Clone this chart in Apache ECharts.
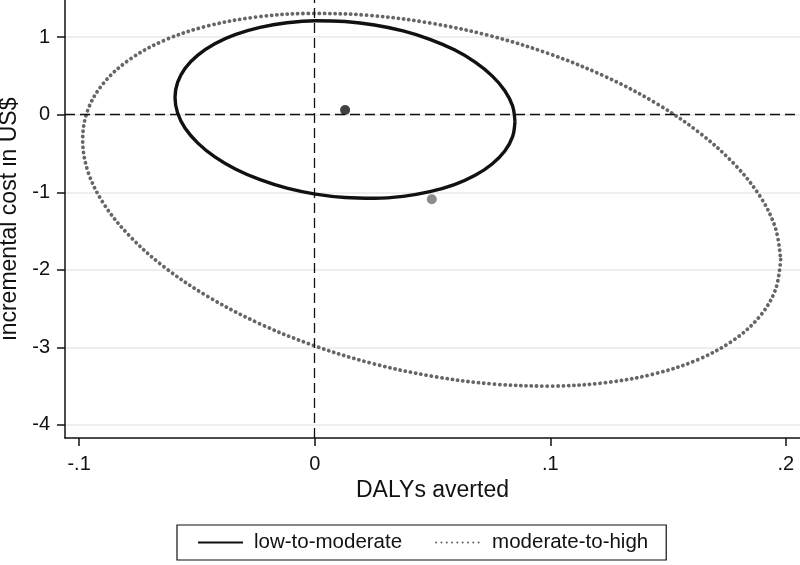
<!DOCTYPE html>
<html><head><meta charset="utf-8">
<script src="https://cdn.jsdelivr.net/npm/echarts@6/dist/echarts.min.js"></script>
<style>html,body{margin:0;padding:0;background:#fff}#c{width:800px;height:565px}</style>
</head><body><div id="c"></div>
<script>
const seriesNames = ['low-to-moderate', 'moderate-to-high'];
const lowToModerate = [
  [0.0850, -0.088], [0.0840, -0.283], [0.0807, -0.467], [0.0753, -0.635], [0.0681, -0.782],
  [0.0593, -0.902], [0.0489, -0.993], [0.0375, -1.053], [0.0254, -1.078], [0.0129, -1.068],
  [0.0003, -1.024], [-0.0118, -0.947], [-0.0232, -0.838], [-0.0335, -0.703], [-0.0424, -0.544],
  [-0.0496, -0.366], [-0.0550, -0.175], [-0.0582, 0.022], [-0.0593, 0.222], [-0.0582, 0.417],
  [-0.0550, 0.601], [-0.0496, 0.769], [-0.0424, 0.916], [-0.0335, 1.036], [-0.0232, 1.127],
  [-0.0118, 1.187], [0.0003, 1.213], [0.0129, 1.202], [0.0254, 1.158], [0.0375, 1.081],
  [0.0489, 0.973], [0.0593, 0.837], [0.0681, 0.679], [0.0753, 0.501], [0.0807, 0.310],
  [0.0840, 0.112], [0.0850, -0.088]
];
const moderateToHigh = [
  [0.1978, -1.870], [0.1956, -2.255], [0.1889, -2.602], [0.1779, -2.905], [0.1631, -3.153],
  [0.1449, -3.337], [0.1237, -3.455], [0.1003, -3.500], [0.0754, -3.473], [0.0497, -3.372],
  [0.0239, -3.204], [-0.0010, -2.971], [-0.0244, -2.681], [-0.0456, -2.341], [-0.0638, -1.966],
  [-0.0786, -1.563], [-0.0896, -1.147], [-0.0963, -0.730], [-0.0985, -0.322], [-0.0963, 0.062],
  [-0.0896, 0.409], [-0.0786, 0.712], [-0.0638, 0.960], [-0.0456, 1.144], [-0.0244, 1.262],
  [-0.0010, 1.307], [0.0239, 1.280], [0.0497, 1.179], [0.0754, 1.011], [0.1003, 0.778],
  [0.1237, 0.488], [0.1449, 0.148], [0.1631, -0.227], [0.1779, -0.630], [0.1889, -1.046],
  [0.1956, -1.463], [0.1978, -1.870]
];
const pointLow = [[0.0129, 0.060]];
const pointHigh = [[0.0497, -1.090]];
const xTickValues = [-0.1, 0, 0.1, 0.2];
const xTickLabels = ['-.1', '0', '.1', '.2'];
const yTickValues = [-4, -3, -2, -1, 0, 1];
const yTickLabels = ['-4', '-3', '-2', '-1', '0', '1'];

function lookup(vals, labels) {
  return function (v) {
    const i = vals.findIndex(t => Math.abs(t - v) < 1e-9);
    return i >= 0 ? labels[i] : '';
  };
}
const FONT = 'Liberation Sans, Arial, sans-serif';
const chart = echarts.init(document.getElementById('c'), null, {renderer: 'canvas'});
chart.setOption({
  animation: false,
  backgroundColor: '#fff',
  textStyle: {fontFamily: FONT},
  grid: {left: 65, right: 0, top: 0, bottom: 127, containLabel: false, outerBoundsMode: 'none'},
  xAxis: {
    type: 'value', min: -0.106, max: 0.206,
    name: 'DALYs averted', nameLocation: 'middle', nameGap: 41,
    nameTextStyle: {fontSize: 23, color: '#111', fontFamily: FONT},
    axisLine: {show: true, onZero: false, lineStyle: {color: '#111', width: 1.5}},
    axisTick: {show: true, length: 8, lineStyle: {color: '#111', width: 1.5}, customValues: xTickValues},
    axisLabel: {fontSize: 20, color: '#111', margin: 16, fontFamily: FONT, customValues: xTickValues,
      formatter: lookup(xTickValues, xTickLabels)},
    splitLine: {show: false}
  },
  yAxis: {
    type: 'value', min: -4.17, max: 1.48,
    name: 'incremental cost in US$', nameLocation: 'middle', nameGap: 42,
    nameTextStyle: {fontSize: 23, color: '#111', fontFamily: FONT},
    axisLine: {show: true, onZero: false, lineStyle: {color: '#111', width: 1.5}},
    axisTick: {show: true, length: 8, lineStyle: {color: '#111', width: 1.5}, customValues: yTickValues},
    axisLabel: {fontSize: 20, color: '#111', margin: 15, fontFamily: FONT, customValues: yTickValues,
      formatter: lookup(yTickValues, yTickLabels)},
    splitLine: {show: true, lineStyle: {color: '#e8e8e8', width: 1.5}}
  },
  legend: {
    data: seriesNames,
    left: 177, top: 525,
    padding: [7, 18, 7, 20],
    borderColor: '#111', borderWidth: 1.2,
    itemWidth: 45, itemHeight: 20, itemGap: 33,
    itemStyle: {opacity: 0},
    textStyle: {fontSize: 20.5, color: '#111', fontFamily: FONT, padding: [0, 0, 0, 6]}
  },
  series: [
    {
      name: seriesNames[1], type: 'line', data: moderateToHigh, smooth: 0.35, symbol: 'none',
      lineStyle: {color: '#666666', width: 3.8, type: [0.1, 5.2], cap: 'round'},
      itemStyle: {color: '#666666'}, z: 2
    },
    {
      name: seriesNames[0], type: 'line', data: lowToModerate, smooth: 0.35, symbol: 'none',
      lineStyle: {color: '#111111', width: 3.4}, itemStyle: {color: '#111111'}, z: 3,
      markLine: {
        silent: true, symbol: 'none', label: {show: false}, animation: false,
        lineStyle: {color: '#111', width: 1.3, type: [10, 5]},
        data: [{xAxis: 0}, {yAxis: 0}]
      }
    },
    {
      name: 'pt-high', type: 'scatter', data: pointHigh, symbolSize: 10,
      itemStyle: {color: '#6e6e6e'}, z: 4
    },
    {
      name: 'pt-low', type: 'scatter', data: pointLow, symbolSize: 10,
      itemStyle: {color: '#111111'}, z: 4
    }
  ]
});
</script>
</body></html>
